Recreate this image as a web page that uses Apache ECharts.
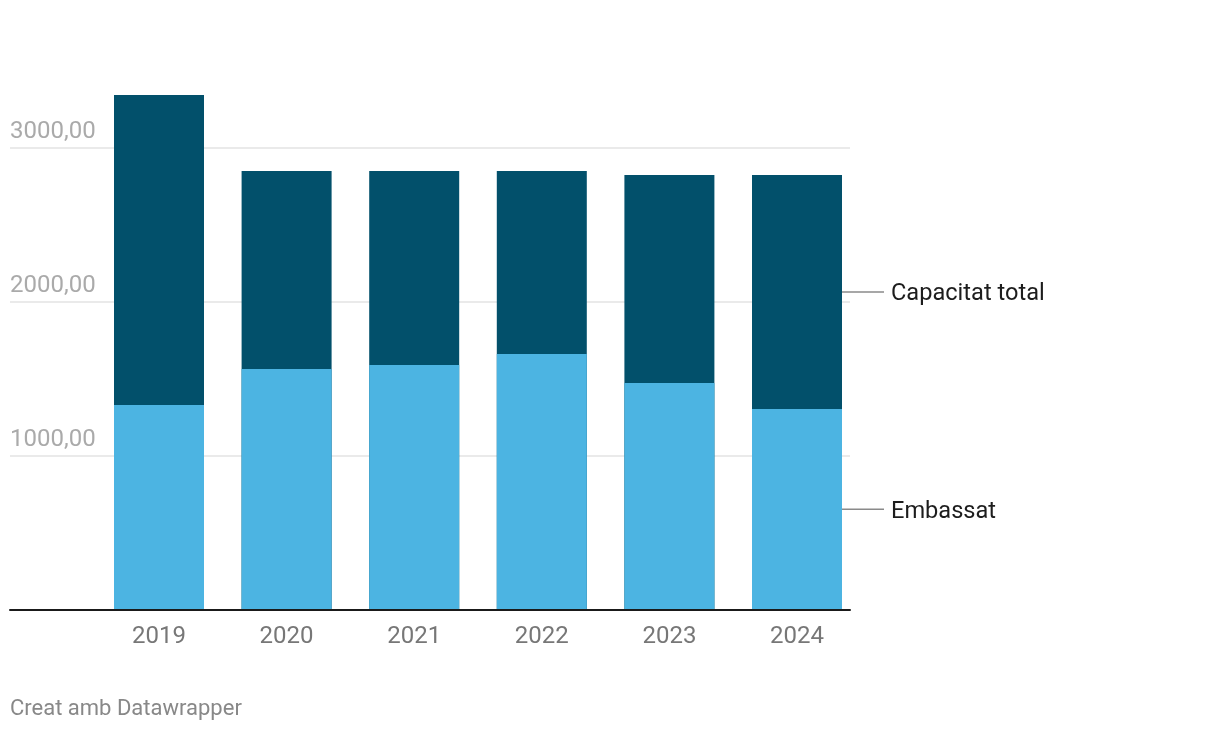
<!DOCTYPE html>
<html>
<head>
<meta charset="utf-8">
<script src="https://cdn.jsdelivr.net/npm/echarts@6/dist/echarts.min.js"></script>
<style>
html,body{margin:0;padding:0;background:#fff;}
#chart{width:1220px;height:732px;}
</style>
</head>
<body>
<div id="chart"></div>
<script>
var years = ['2019', '2020', '2021', '2022', '2023', '2024'];
var capacitatTotal = [3342, 2849, 2849, 2849, 2823, 2823];
var embassat = [1329, 1563, 1589, 1660, 1472, 1303];
var yTicks = [1000, 2000, 3000];
var seriesNames = ['Capacitat total', 'Embassat'];

var FONT = 'Roboto, "Noto Sans", sans-serif';
var last = years.length - 1;

function endLabel(name, pos) {
  return {
    show: true,
    position: pos,
    align: 'left',
    verticalAlign: 'middle',
    distance: 0,
    formatter: '{l|}{t|' + name + '}',
    rich: {
      l: { width: 42, height: 1.5, backgroundColor: '#8a8a8a', verticalAlign: 'middle' },
      t: { fontFamily: FONT, fontSize: 23.6, color: '#1d1d1d', padding: [5, 0, 0, 7], verticalAlign: 'middle', lineHeight: 28 }
    }
  };
}

var capPct = (capacitatTotal[last] - embassat[last]) / (2 * capacitatTotal[last]) * 100;

var chart = echarts.init(document.getElementById('chart'), null, { renderer: 'canvas' });
chart.setOption({
  animation: false,
  backgroundColor: '#ffffff',
  textStyle: { fontFamily: FONT },
  grid: [
    { left: 10, right: 370, top: 70.7, bottom: 122.3 },
    { left: 95.2, right: 359.2, top: 70.7, bottom: 122.3 }
  ],
  xAxis: [
    { gridIndex: 0, type: 'value', min: 0, max: 1, z: 10,
      axisLine: { show: true, lineStyle: { color: '#1a1a1a', width: 2 } },
      axisTick: { show: false }, axisLabel: { show: false }, splitLine: { show: false } },
    { gridIndex: 1, type: 'category', data: years,
      axisLine: { show: false }, axisTick: { show: false },
      axisLabel: { color: '#777777', fontSize: 24, fontFamily: FONT, margin: 15 } }
  ],
  yAxis: [
    { gridIndex: 0, type: 'value', min: 0, max: 3500, interval: 1000,
      axisLine: { show: false }, axisTick: { show: false },
      splitLine: { show: true, showMinLine: false, showMaxLine: false, lineStyle: { color: '#e3e3e3', width: 1.5 } },
      axisLabel: { inside: true, margin: 0, showMinLabel: false, showMaxLabel: false,
        color: '#aaaaaa', fontSize: 24, fontFamily: FONT,
        verticalAlign: 'bottom', lineHeight: 24, padding: [0, 0, 4, 0],
        formatter: function (v) { return yTicks.indexOf(v) >= 0 ? v.toFixed(2).replace('.', ',') : ''; } } },
    { gridIndex: 1, type: 'value', min: 0, max: 3500, show: false, splitLine: { show: false } }
  ],
  series: [
    { name: seriesNames[0], type: 'bar', xAxisIndex: 1, yAxisIndex: 1, barWidth: 90, barGap: '-100%',
      itemStyle: { color: '#02506b' },
      data: capacitatTotal.map(function (v, i) {
        return i === last ? { value: v, label: endLabel(seriesNames[0], ['100%', capPct + '%']) } : v;
      }) },
    { name: seriesNames[1], type: 'bar', xAxisIndex: 1, yAxisIndex: 1, barWidth: 90, barGap: '-100%',
      itemStyle: { color: '#4cb4e2' },
      data: embassat.map(function (v, i) {
        return i === last ? { value: v, label: endLabel(seriesNames[1], 'right') } : v;
      }) }
  ],
  graphic: [
    { type: 'text', left: 10, top: 698,
      style: { text: 'Creat amb Datawrapper', fill: '#888888', fontSize: 22, fontFamily: FONT } }
  ]
});
</script>
</body>
</html>
